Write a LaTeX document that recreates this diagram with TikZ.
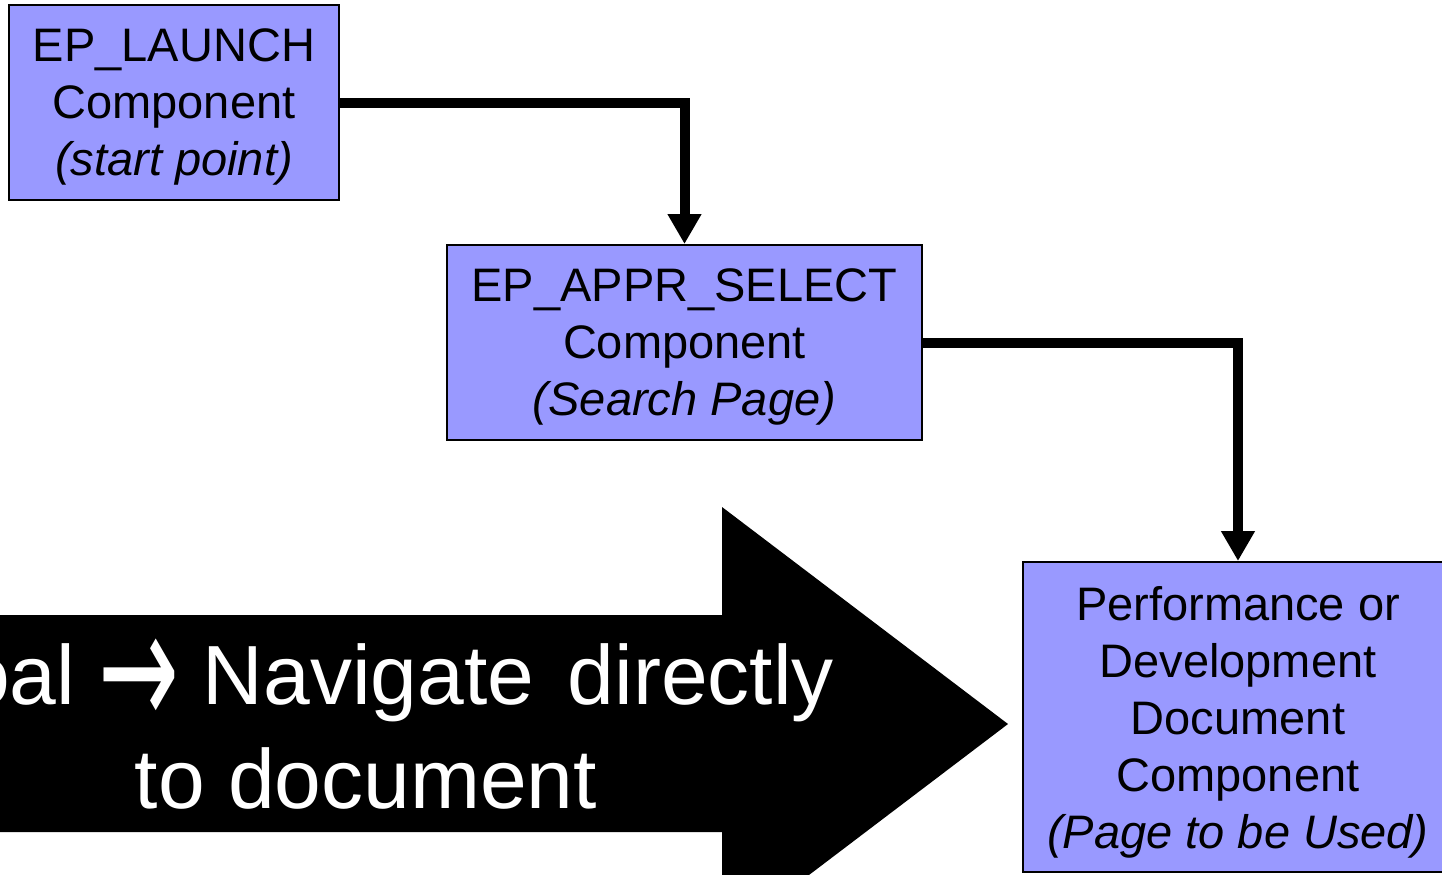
\documentclass[tikz,border=0pt]{standalone}
\usepackage{fontspec}
\usepackage{graphicx}
\setmainfont{Liberation Sans}
\newfontfamily\arrfont{DejaVu Sans}
\usetikzlibrary{arrows.meta}
\definecolor{boxblue}{HTML}{9999FF}

\begin{document}
\begin{tikzpicture}[x=0.5pt,y=-0.5pt,
    comp/.style={draw,line width=1pt,fill=boxblue,align=center,inner sep=0pt,
        text depth=0pt,font=\fontsize{23.5}{28.5}\selectfont},
    flow/.style={line width=5pt,-{Triangle[width=16pt,length=15pt]}}]
                \useasboundingbox (0,0) rectangle (1442,874);
                \clip (0,0) rectangle (1442,874);

                % big arrow
                \fill (-20,615) -- (722,615) -- (722,507) -- (1008,724)
                      -- (722,941) -- (722,832) -- (-20,832) -- cycle;
                \node[text=white,align=center,font=\fontsize{42}{52}\selectfont]
                      (G) at (366,724) {Goal {\arrfont\raisebox{-0.27em}{\scalebox{1.15}[2]{→}}} Navigate\hspace{0.4em}directly\\to document};

                \node[comp,minimum width=165pt,minimum height=97.5pt] (L) at (174,102.5)
                      {EP\_LAUNCH\\Component\\\textit{(start point)}};
                \node[comp,minimum width=237.5pt,minimum height=97.5pt] (S) at (684.5,342.5)
                      {EP\_APPR\_SELECT\\Component\\\textit{(Search Page)}};
                \node[comp,minimum width=215pt,minimum height=155pt] (D) at (1238,717)
                      {Performance or\\Development\\Document\\Component\\\textit{(Page to be Used)}};

                \draw[flow] (L.east) -| (S.north);
                \draw[flow] (S.east) -| (D.north);
            \end{tikzpicture}
\end{document}
